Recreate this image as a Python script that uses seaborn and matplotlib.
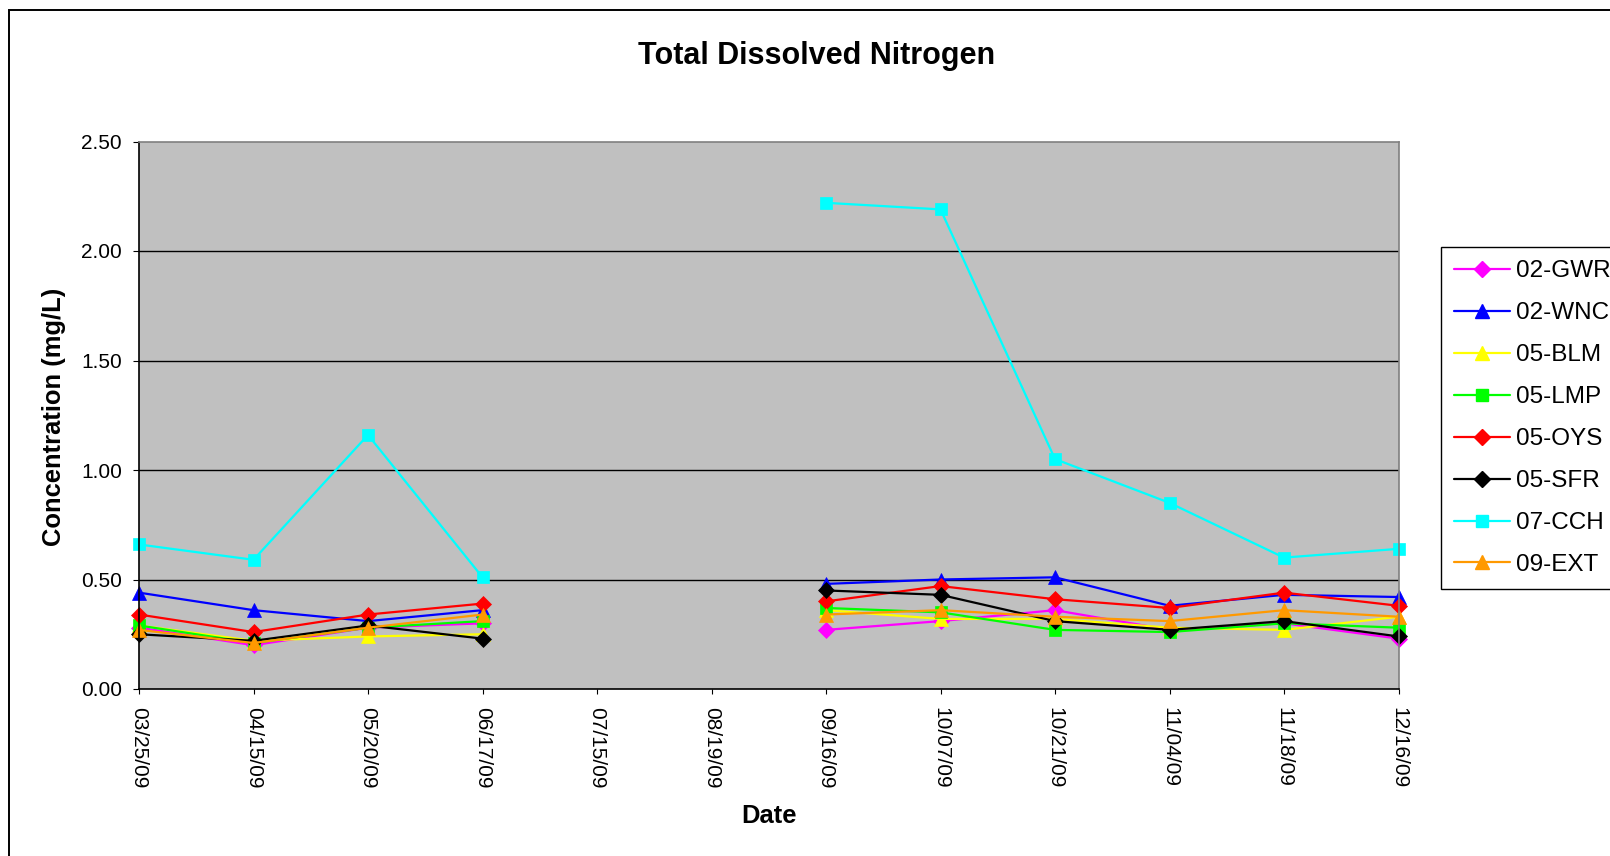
import numpy as np
import pandas as pd
import matplotlib
matplotlib.use("Agg")
import matplotlib.pyplot as plt
from matplotlib.lines import Line2D
from matplotlib.patches import Rectangle
import seaborn as sns

# ── Data ──────────────────────────────────────────────────────────────────
dates = ["03/25/09", "04/15/09", "05/20/09", "06/17/09", "07/15/09", "08/19/09",
         "09/16/09", "10/07/09", "10/21/09", "11/04/09", "11/18/09", "12/16/09"]
nan = np.nan

gwr = [0.28, 0.20, 0.28, 0.30, nan, nan, 0.27, 0.31, 0.36, 0.27, 0.30, 0.23]
wnc = [0.44, 0.36, 0.31, 0.36, nan, nan, 0.48, 0.50, 0.51, 0.38, 0.43, 0.42]
blm = [0.29, 0.22, 0.24, 0.25, nan, nan, 0.36, 0.32, 0.32, 0.28, 0.27, 0.33]
lmp = [0.29, 0.21, 0.28, 0.31, nan, nan, 0.37, 0.35, 0.27, 0.26, 0.30, 0.28]
oys = [0.34, 0.26, 0.34, 0.39, nan, nan, 0.40, 0.47, 0.41, 0.37, 0.44, 0.38]
sfr = [0.25, 0.22, 0.29, 0.23, nan, nan, 0.45, 0.43, 0.31, 0.27, 0.31, 0.24]
cch = [0.66, 0.59, 1.16, 0.51, nan, nan, 2.22, 2.19, 1.05, 0.85, 0.60, 0.64]
ext = [0.27, 0.21, 0.28, 0.34, nan, nan, 0.34, 0.36, 0.33, 0.31, 0.36, 0.33]

sites = ["02-GWR", "02-WNC", "05-BLM", "05-LMP", "05-OYS", "05-SFR", "07-CCH", "09-EXT"]
series = [gwr, wnc, blm, lmp, oys, sfr, cch, ext]

palette = {"02-GWR": "#FF00FF", "02-WNC": "#0000FF", "05-BLM": "#FFFF00",
           "05-LMP": "#00FF00", "05-OYS": "#FF0000", "05-SFR": "#000000",
           "07-CCH": "#00FFFF", "09-EXT": "#FF9900"}
markers = {"02-GWR": "D", "02-WNC": "^", "05-BLM": "^", "05-LMP": "s",
           "05-OYS": "D", "05-SFR": "D", "07-CCH": "s", "09-EXT": "^"}
msize = {"D": 8.5, "^": 10, "s": 8}

# long format; a new segment starts after each missing sample so gaps stay open
rows = []
for site, vals in zip(sites, series):
    seg = 0
    for i, v in enumerate(vals):
        if np.isnan(v):
            seg += 1
            continue
        rows.append({"site": site, "pos": i, "value": v, "seg": seg})
df = pd.DataFrame(rows)

# ── Plot ──────────────────────────────────────────────────────────────────
sns.set_style("white")
plt.rcParams["font.family"] = ["Liberation Sans", "DejaVu Sans"]
plt.rcParams["text.color"] = "black"

W, H = 1610, 856
fig = plt.figure(figsize=(W / 100, H / 100), dpi=100)
ax = fig.add_axes([139 / W, 1 - 689 / H, (1398.5 - 139) / W, (689 - 141.5) / H])
ax.set_facecolor("#C0C0C0")

for v in [0.5, 1.0, 1.5, 2.0]:
    ax.axhline(v, color="black", lw=1.0, zorder=0.5)

sns.lineplot(data=df, x="pos", y="value", hue="site", style="site",
             units="seg", estimator=None, hue_order=sites, style_order=sites,
             palette=palette, markers=markers, dashes=False, sort=True,
             linewidth=1.6, legend=False, ax=ax)

for ln in ax.lines:
    m = ln.get_marker()
    if m in msize:
        ln.set_markersize(msize[m])
        ln.set_markeredgecolor(ln.get_color())
        ln.set_markerfacecolor(ln.get_color())
        ln.set_markeredgewidth(0.5)
        ln.set_clip_on(False)

ax.set_xlim(0, len(dates) - 1)
ax.set_ylim(0, 2.5)
ax.set_xticks(range(len(dates)))
ax.set_xticklabels(dates, rotation=270, fontsize=15)
ax.set_yticks([0, 0.5, 1.0, 1.5, 2.0, 2.5])
ax.set_yticklabels([f"{v:.2f}" for v in [0, 0.5, 1.0, 1.5, 2.0, 2.5]], fontsize=15)
ax.tick_params(axis="y", direction="out", length=4.3, width=0.8, pad=8, colors="black", left=True)
ax.tick_params(axis="x", direction="out", length=3.6, width=0.8, pad=9.5, colors="black", bottom=True)
ax.set_xlabel("")
ax.set_ylabel("")

for side in ["left", "bottom"]:
    ax.spines[side].set_color("black")
    ax.spines[side].set_linewidth(1.2)
for side in ["top", "right"]:
    ax.spines[side].set_color("#808080")
    ax.spines[side].set_linewidth(1.2)

# ── Text ──────────────────────────────────────────────────────────────────
fig.text(817 / W, 1 - 56 / H, "Total Dissolved Nitrogen", ha="center", va="center",
         fontsize=22, fontweight="bold", color="black")
fig.text(54 / W, 1 - 417 / H, "Concentration (mg/L)", ha="center", va="center",
         rotation=90, fontsize=18.4, fontweight="bold", color="black")
fig.text(769 / W, 1 - 816 / H, "Date", ha="center", va="center",
         fontsize=18.4, fontweight="bold", color="black")

# ── Legend ────────────────────────────────────────────────────────────────
handles = [Line2D([], [], color=palette[s], marker=markers[s], lw=1.6,
                  markersize=msize[markers[s]], markeredgecolor=palette[s])
           for s in sites]
leg = fig.legend(handles, sites, loc="upper left",
                 bbox_to_anchor=(1440.7 / W, 1 - 247 / H), bbox_transform=fig.transFigure,
                 fontsize=17.5, frameon=True, fancybox=False, framealpha=1,
                 edgecolor="black", borderaxespad=0, borderpad=0.55,
                 handlelength=2.3, handletextpad=0.25, labelspacing=0.82)
leg.get_frame().set_linewidth(1.0)
for t in leg.get_texts():
    t.set_color("black")

# outer chart border (cut off on the right and bottom)
fig.add_artist(Rectangle((9 / W, -0.1), 1.2, 1 - 9.5 / H + 0.1, transform=fig.transFigure,
                         fill=False, edgecolor="black", lw=1.4, clip_on=False))

fig.savefig("out.png", dpi=100)
